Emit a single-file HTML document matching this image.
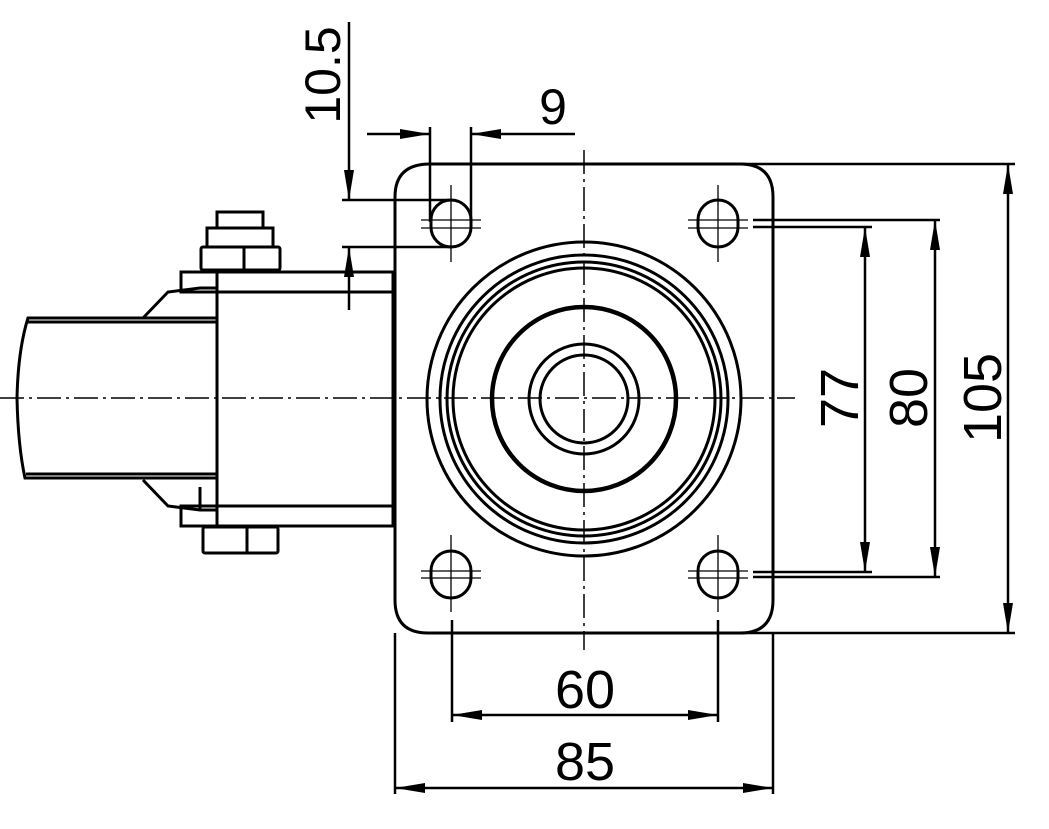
<!DOCTYPE html>
<html><head><style>html,body{margin:0;padding:0;background:#fff}svg{display:block}</style></head>
<body>
<svg width="1049" height="829" viewBox="0 0 1049 829" xmlns="http://www.w3.org/2000/svg">
<defs>
<marker id="a" viewBox="0 0 30 10" refX="30" refY="5" markerWidth="30" markerHeight="10" markerUnits="userSpaceOnUse" orient="auto-start-reverse"><path d="M0,0 L30,5 L0,10 Z" fill="#000"/></marker>
</defs>
<g fill="none" stroke="#000" stroke-width="3">
<!-- centerlines -->
<g stroke-width="1.5" stroke-dasharray="24,5,3,5">
<line x1="0" y1="398" x2="795" y2="398"/>
<line x1="584" y1="150" x2="584" y2="650"/>
</g>
<!-- plate -->
<path d="M430,164 H740 Q773,164 773,197 V600 Q773,633 740,633 H428 Q395,633 395,600 V197 Q395,164 430,164 Z"/>
<!-- holes -->
<g>
<rect x="431" y="200" width="40" height="47" rx="20" ry="20"/>
<rect x="698" y="200" width="40" height="47" rx="20" ry="20"/>
<rect x="431" y="551" width="40" height="47" rx="20" ry="20"/>
<rect x="698" y="551" width="40" height="47" rx="20" ry="20"/>
</g>
<g stroke-width="1.3">
<path d="M451,185 V262 M421,220 H481 M421,228 H481"/>
<path d="M718,185 V262 M688,220 H748 M688,228 H748"/>
<path d="M451,535 V612 M421,571 H481 M421,578 H481"/>
<path d="M718,535 V612 M688,571 H748 M688,578 H748"/>
</g>
<!-- circles -->
<circle cx="584" cy="399" r="157"/>
<circle cx="584" cy="399" r="144"/>
<circle cx="584" cy="399" r="137"/>
<circle cx="584" cy="399" r="131"/>
<circle cx="584" cy="399" r="92" stroke-width="4.5"/>
<circle cx="584" cy="399" r="55"/>
<circle cx="584" cy="399" r="44"/>
<!-- left housing -->
<rect x="217" y="272" width="176" height="254"/>
<line x1="217" y1="292" x2="393" y2="292"/>
<line x1="217" y1="506" x2="393" y2="506"/>
<rect x="181" y="272" width="36" height="20"/>
<rect x="181" y="506" width="36" height="20"/>
<path d="M143,318 L168,292 L200,288 L217,288"/>
<path d="M143,480 L168,506 L200,510 L217,510"/>
<line x1="200" y1="487" x2="200" y2="510"/>
<!-- wheel -->
<path d="M217,318 H28 Q18,350 17,398 Q18,446 25,478 H217"/>
<line x1="28" y1="322" x2="217" y2="322"/>
<line x1="26" y1="474" x2="217" y2="474"/>
<!-- nuts -->
<rect x="201" y="247" width="79" height="23" rx="2"/>
<line x1="244" y1="247" x2="244" y2="270"/>
<rect x="207" y="228" width="66" height="19"/>
<rect x="217" y="212" width="46" height="16"/>
<rect x="203" y="527" width="75" height="26" rx="2"/>
<line x1="247" y1="527" x2="247" y2="553"/>
<!-- 10.5 dim -->
<g stroke-width="2.5">
<line x1="349" y1="22" x2="349" y2="200" marker-end="url(#a)"/>
<line x1="349" y1="310" x2="349" y2="247" marker-end="url(#a)"/>
<line x1="342" y1="200" x2="451" y2="200"/>
<line x1="342" y1="247" x2="451" y2="247"/>
<line x1="0" y1="0" x2="0" y2="0"/>
<!-- 9 dim -->
<line x1="367" y1="134" x2="430" y2="134" marker-end="url(#a)"/>
<line x1="575" y1="134" x2="471" y2="134" marker-end="url(#a)"/>
<line x1="430" y1="127" x2="430" y2="222"/>
<line x1="471" y1="127" x2="471" y2="222"/>
<!-- right dims -->
<line x1="753" y1="220" x2="940" y2="220"/>
<line x1="753" y1="227" x2="872" y2="227"/>
<line x1="753" y1="572" x2="872" y2="572"/>
<line x1="753" y1="577" x2="940" y2="577"/>
<line x1="735" y1="164" x2="1015" y2="164"/>
<line x1="735" y1="633" x2="1015" y2="633"/>
<line x1="865" y1="398" x2="865" y2="227" marker-end="url(#a)"/>
<line x1="865" y1="398" x2="865" y2="572" marker-end="url(#a)"/>
<line x1="935" y1="398" x2="935" y2="220" marker-end="url(#a)"/>
<line x1="935" y1="398" x2="935" y2="577" marker-end="url(#a)"/>
<line x1="1008" y1="398" x2="1008" y2="164" marker-end="url(#a)"/>
<line x1="1008" y1="398" x2="1008" y2="633" marker-end="url(#a)"/>
<!-- bottom dims -->
<line x1="395" y1="633" x2="395" y2="794"/>
<line x1="773" y1="633" x2="773" y2="794"/>
<line x1="452" y1="620" x2="452" y2="722"/>
<line x1="718" y1="620" x2="718" y2="722"/>
<line x1="585" y1="715" x2="452" y2="715" marker-end="url(#a)"/>
<line x1="585" y1="715" x2="718" y2="715" marker-end="url(#a)"/>
<line x1="585" y1="788" x2="395" y2="788" marker-end="url(#a)"/>
<line x1="585" y1="788" x2="773" y2="788" marker-end="url(#a)"/>
</g>
</g>
<g font-family="Liberation Sans, sans-serif" font-size="54" fill="#000" text-anchor="middle">
<text x="585" y="708">60</text>
<text x="585" y="780">85</text>
<text x="553" y="124" font-size="50">9</text>
<text transform="translate(340,75) rotate(-90)" font-size="50">10.5</text>
<text transform="translate(858,398) rotate(-90)">77</text>
<text transform="translate(927,398) rotate(-90)">80</text>
<text transform="translate(1001,398) rotate(-90)">105</text>
</g>
</svg>
</body></html>
